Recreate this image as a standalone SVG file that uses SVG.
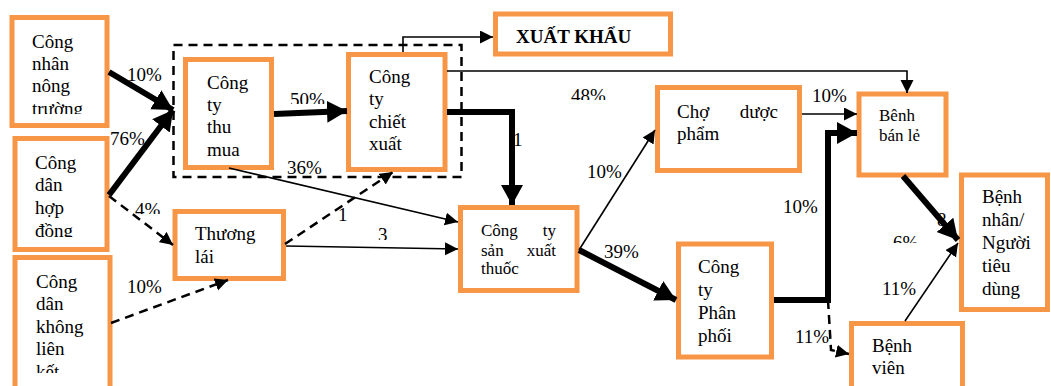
<svg xmlns="http://www.w3.org/2000/svg" width="1051" height="386" viewBox="0 0 1051 386">
<style>
.box{fill:#fff;stroke:#F79646;stroke-width:5}
.t{font-family:"Liberation Serif","Times New Roman",serif;font-size:19px;fill:#000}
.s{font-size:17px}
.b{font-weight:bold}
.thin{fill:none;stroke:#000;stroke-width:1.6}
.thick{fill:none;stroke:#000;stroke-width:6}
.dash{fill:none;stroke:#000;stroke-width:2.5;stroke-dasharray:9,6}
</style>
<defs>
<marker id="ah" markerUnits="userSpaceOnUse" markerWidth="14" markerHeight="14" refX="13" refY="6.5" orient="auto"><path d="M0,0 L13,6.5 L0,13 z" fill="#000"/></marker>
<marker id="ahT" markerUnits="userSpaceOnUse" markerWidth="22" markerHeight="24" refX="20" refY="11" orient="auto"><path d="M0,0 L20,11 L0,22 z" fill="#000"/></marker>
<clipPath id="c1"><rect x="0" y="0" width="120" height="114"/></clipPath>
<clipPath id="c2"><rect x="0" y="140" width="120" height="97"/></clipPath>
<clipPath id="c3"><rect x="0" y="260" width="120" height="113"/></clipPath>
<clipPath id="cl1"><rect x="120" y="60" width="50" height="22"/></clipPath>
<clipPath id="cl2"><rect x="285" y="85" width="50" height="19"/></clipPath>
<clipPath id="cl3"><rect x="565" y="80" width="50" height="20"/></clipPath>
<clipPath id="cl4"><rect x="130" y="195" width="40" height="19"/></clipPath>
<clipPath id="cl5"><rect x="885" y="230" width="40" height="13"/></clipPath>
<clipPath id="cl6"><rect x="370" y="226" width="30" height="14"/></clipPath>
</defs>
<rect width="1051" height="386" fill="#fff"/>
<g id="group-frame"><rect x="173.5" y="45" width="288" height="132" class="dash" stroke-dasharray="9,6"/></g>
<g id="n-cong-nhan">
<rect class="box" x="12" y="17.5" width="95" height="108"/>
<text class="t" clip-path="url(#c1)"><tspan x="32" y="48">Công</tspan><tspan x="32" y="70">nhân</tspan><tspan x="32" y="92">nông</tspan><tspan x="32" y="115">trường</tspan></text>
</g>
<g id="n-hop-dong">
<rect class="box" x="15" y="138.5" width="92" height="111"/>
<text class="t" clip-path="url(#c2)"><tspan x="35" y="169">Công</tspan><tspan x="35" y="191">dân</tspan><tspan x="35" y="214">hợp</tspan><tspan x="35" y="237">đồng</tspan></text>
</g>
<g id="n-khong-lien-ket">
<rect class="box" x="15" y="257.5" width="95" height="140"/>
<text class="t" clip-path="url(#c3)"><tspan x="36" y="288">Công</tspan><tspan x="36" y="310">dân</tspan><tspan x="36" y="333">không</tspan><tspan x="36" y="355">liên</tspan><tspan x="36" y="378">kết</tspan></text>
</g>
<g id="n-thu-mua">
<rect class="box" x="185.5" y="59.5" width="86" height="108"/>
<text class="t"><tspan x="207" y="89">Công</tspan><tspan x="207" y="111">ty</tspan><tspan x="207" y="133">thu</tspan><tspan x="207" y="156">mua</tspan></text>
</g>
<g id="n-chiet-xuat">
<rect class="box" x="348.5" y="54.5" width="96.5" height="115"/>
<text class="t"><tspan x="369" y="83">Công</tspan><tspan x="369" y="105">ty</tspan><tspan x="369" y="128">chiết</tspan><tspan x="369" y="150">xuất</tspan></text>
</g>
<g id="n-xuat-khau">
<rect class="box" x="495.5" y="14" width="175" height="40"/>
<text class="t b" x="516" y="43">XUẤT KHẨU</text>
</g>
<g id="n-thuong-lai">
<rect class="box" x="175" y="211.5" width="108.5" height="67"/>
<text class="t"><tspan x="195" y="240">Thương</tspan><tspan x="195" y="263">lái</tspan></text>
</g>
<g id="n-san-xuat">
<rect class="box" x="460.5" y="207.5" width="116.5" height="83"/>
<text class="t s" x="481" y="236">Công</text><text class="t s" x="556" y="236" text-anchor="end">ty</text>
<text class="t s" x="481" y="256">sản</text><text class="t s" x="556" y="256" text-anchor="end">xuất</text>
<text class="t s" x="481" y="274">thuốc</text>
</g>
<g id="n-cho-duoc-pham">
<rect class="box" x="657.5" y="87.5" width="142" height="83"/>
<text class="t" x="677" y="118">Chợ</text><text class="t" x="778" y="118" text-anchor="end">dược</text>
<text class="t" x="677" y="140">phẩm</text>
</g>
<g id="n-ban-le">
<rect class="box" x="859" y="94" width="87" height="81"/>
<text class="t s"><tspan x="879" y="121">Bênh</tspan><tspan x="879" y="141">bán lẻ</tspan></text>
</g>
<g id="n-benh-nhan">
<rect class="box" x="961.5" y="175" width="86" height="134.5"/>
<text class="t"><tspan x="982" y="203">Bệnh</tspan><tspan x="982" y="226">nhân/</tspan><tspan x="982" y="249">Người</tspan><tspan x="982" y="272">tiêu</tspan><tspan x="982" y="295">dùng</tspan></text>
</g>
<g id="n-phan-phoi">
<rect class="box" x="678.5" y="244" width="93" height="113"/>
<text class="t"><tspan x="698" y="273">Công</tspan><tspan x="698" y="296">ty</tspan><tspan x="698" y="319">Phân</tspan><tspan x="698" y="342">phối</tspan></text>
</g>
<g id="n-benh-vien">
<rect class="box" x="851.5" y="323.5" width="111" height="80"/>
<text class="t"><tspan x="872" y="352">Bệnh</tspan><tspan x="872" y="374">viên</tspan></text>
</g>
<g id="connectors">
<g id="labels">
<text class="t" x="127" y="81" clip-path="url(#cl1)">10%</text>
<text class="t" x="110" y="145">76%</text>
<text class="t" x="135" y="216" clip-path="url(#cl4)">4%</text>
<text class="t" x="127" y="293">10%</text>
<text class="t" x="290" y="106" clip-path="url(#cl2)">50%</text>
<text class="t" x="287" y="174">36%</text>
<text class="t" x="338" y="221">1</text>
<text class="t" x="378" y="241" clip-path="url(#cl6)">3</text>
<text class="t" x="571" y="102" clip-path="url(#cl3)">48%</text>
<text class="t" x="513" y="146">1</text>
<text class="t" x="587" y="178">10%</text>
<text class="t" x="604" y="258">39%</text>
<text class="t" x="812" y="102">10%</text>
<text class="t" x="783" y="213">10%</text>
<text class="t" x="795" y="343">11%</text>
<text class="t" x="882" y="295">11%</text>
<text class="t" x="893" y="249" clip-path="url(#cl5)">6%</text>
<text class="t" x="937" y="226">8</text>
</g>
<path class="thick" d="M109,72 L173,110" marker-end="url(#ahT)"/>
<path class="thick" d="M109,195 L173,110" marker-end="url(#ahT)"/>
<path class="dash" d="M109,196 L173,245" marker-end="url(#ah)"/>
<path class="dash" d="M111,323 L228,280" marker-end="url(#ah)"/>
<path class="thick" d="M274,114 L347,111" marker-end="url(#ahT)"/>
<path class="thin" d="M229,168 L458,222" marker-end="url(#ah)"/>
<path class="dash" d="M285,244 L393,172" marker-end="url(#ah)"/>
<path class="thin" d="M286,246 L458,249" stroke-width="1.2" marker-end="url(#ah)"/>
<path class="thin" d="M403,52 L403,37 L493,37" stroke-width="2" marker-end="url(#ah)"/>
<path class="thin" d="M447,71 L907,71 L907,93" stroke-width="2" marker-end="url(#ah)"/>
<path class="thick" d="M447,112 L512,112 L512,205" marker-end="url(#ahT)"/>
<path class="thin" d="M579,250 L655,130" marker-end="url(#ah)"/>
<path class="thick" d="M579,250 L676,300" marker-end="url(#ahT)"/>
<path class="thick" d="M774,300 L828,300 L828,133 L857,133" marker-end="url(#ahT)"/>
<path class="dash" d="M828,300 L831,350 L849,354" marker-end="url(#ah)"/>
<path class="thin" d="M802,114 L857,114" stroke-width="2" marker-end="url(#ah)"/>
<path class="thick" d="M903,176 L958,240" marker-end="url(#ahT)"/>
<path class="thin" d="M905,321 L958,243" marker-end="url(#ah)"/>
</g>
</svg>
